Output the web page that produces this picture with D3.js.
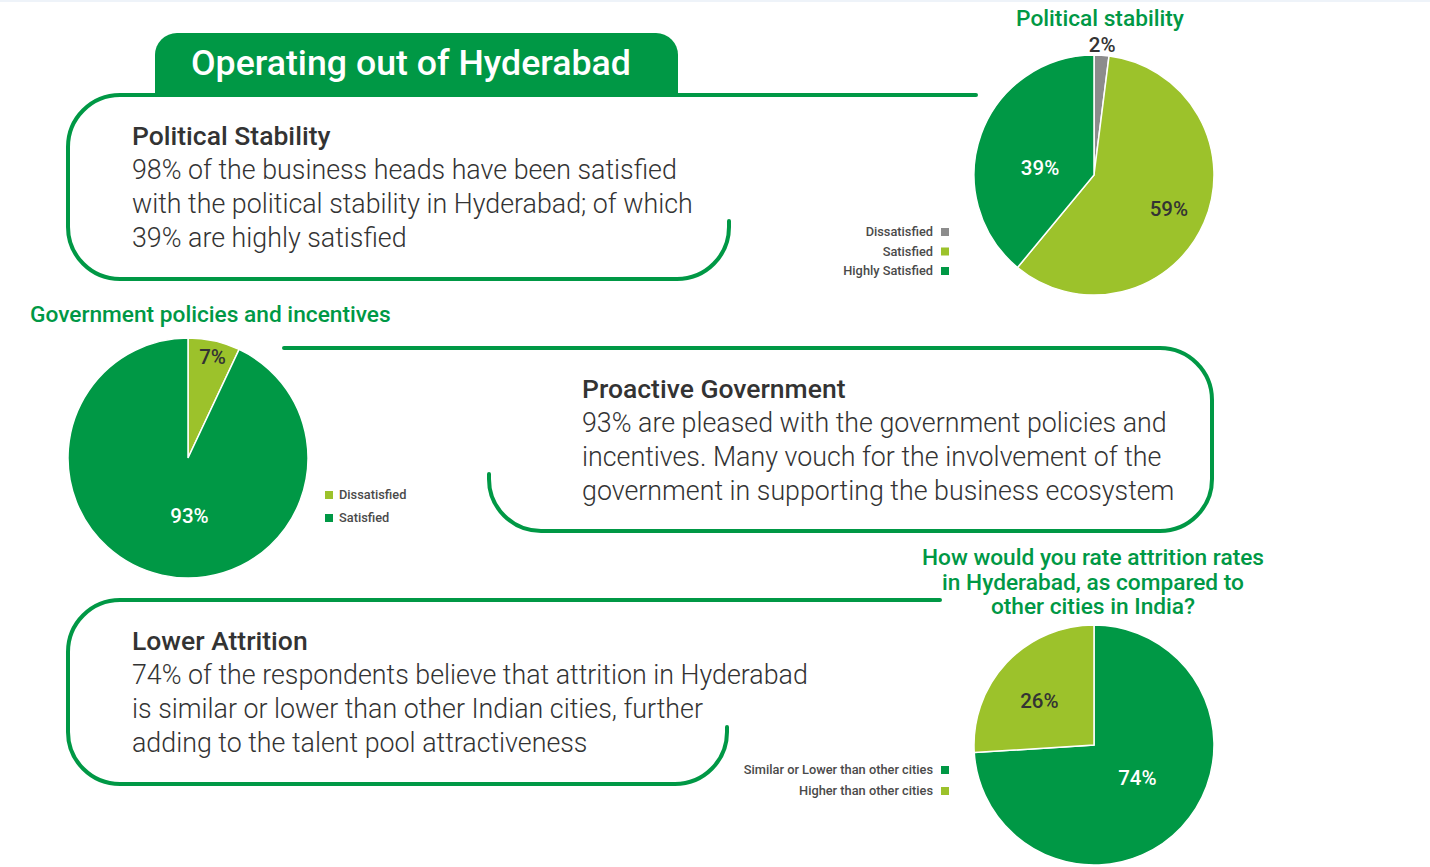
<!DOCTYPE html>
<html>
<head>
<meta charset="UTF-8">
<title>Operating out of Hyderabad</title>
<style>
  body { margin: 0; background: #fff; }
  text { font-family: Roboto, "Open Sans", sans-serif; }
</style>
</head>
<body>
<script src="https://cdn.jsdelivr.net/npm/d3@7"></script>
<script>
// ---- data ----
var politicalLabels = ["Dissatisfied", "Satisfied", "Highly Satisfied"];
var politicalValues = [2, 59, 39];

var policyLabels = ["Dissatisfied", "Satisfied"];
var policyValues = [7, 93];

var attritionLabels = ["Similar or Lower than other cities", "Higher than other cities"];
var attritionValues = [74, 26];

var darkGreen = "#009845", lightGreen = "#9cc22b", grey = "#8c8c8c", ink = "#333";

var W = 1430, H = 867;
var svg = d3.select("body").append("svg")
    .attr("width", W)
    .attr("height", H);

svg.append("rect").attr("x", 0).attr("y", 0).attr("width", W).attr("height", 2).attr("fill", "#eef3f9");

// ---- header tab ----
svg.append("path")
    .attr("d", "M155,97 L155,55 A22,22 0 0 1 177,33 L656,33 A22,22 0 0 1 678,55 L678,97 Z")
    .attr("fill", darkGreen);
svg.append("text")
    .attr("x", 191).attr("y", 75)
    .attr("fill", "#fff")
    .attr("font-size", 35.7)
    .attr("font-weight", 500)
    .text("Operating out of Hyderabad");

// ---- rounded text boxes ----
var boxes = [
  "M976,95 L120,95 A52,52 0 0 0 68,147 L68,227 A52,52 0 0 0 120,279 L677,279 A52,52 0 0 0 729,227 L729,221",
  "M284,348 L1160,348 A52,52 0 0 1 1212,400 L1212,479 A52,52 0 0 1 1160,531 L541,531 A52,52 0 0 1 489,479 L489,474",
  "M940,600 L120,600 A52,52 0 0 0 68,652 L68,732 A52,52 0 0 0 120,784 L675,784 A52,52 0 0 0 727,732 L727,727"
];
svg.append("g")
    .attr("fill", "none")
    .attr("stroke", darkGreen)
    .attr("stroke-width", 4)
    .attr("stroke-linecap", "round")
  .selectAll("path")
  .data(boxes)
  .enter().append("path")
    .attr("d", d => d);

function textBlock(x, y, title, lines) {
  var g = svg.append("g").attr("fill", ink);
  g.append("text")
      .attr("x", x).attr("y", y)
      .attr("font-size", 26.5)
      .attr("font-weight", 500)
      .text(title);
  g.selectAll("text.body")
    .data(lines)
    .enter().append("text")
      .attr("class", "body")
      .attr("x", x)
      .attr("y", (d, i) => y + 34 + i * 34)
      .attr("font-size", 26.8)
      .attr("font-weight", 300)
      .text(d => d);
}

textBlock(132, 145, "Political Stability", [
  "98% of the business heads have been satisfied",
  "with the political stability in Hyderabad; of which",
  "39% are highly satisfied"
]);
textBlock(582, 398, "Proactive Government", [
  "93% are pleased with the government policies and",
  "incentives. Many vouch for the involvement of the",
  "government in supporting the business ecosystem"
]);
textBlock(132, 650, "Lower Attrition", [
  "74% of the respondents believe that attrition in Hyderabad",
  "is similar or lower than other Indian cities, further",
  "adding to the talent pool attractiveness"
]);

// ---- pies ----
var R = 120;
var pie = d3.pie().sort(null).value(d => d.value);
var arc = d3.arc().innerRadius(0).outerRadius(R);

// labelR: label radius as share of R, nudge: small [dx, dy] tweaks to label spots
function drawPie(cx, cy, labels, values, colors, labelR, nudge, labelFill) {
  var data = labels.map((l, i) => ({ label: l, value: values[i] }));
  var color = d3.scaleOrdinal().domain(labels).range(colors);
  var arcs = pie(data);
  var g = svg.append("g").attr("transform", `translate(${cx},${cy})`);
  g.selectAll("path")
    .data(arcs)
    .enter().append("path")
      .attr("fill", d => color(d.data.label))
      .attr("stroke", "#fff")
      .attr("stroke-width", 1.5)
      .attr("d", arc);
  g.selectAll("text")
    .data(arcs)
    .enter().append("text")
      .attr("transform", (d, i) => {
        var r = R * labelR[i];
        var c = d3.arc().innerRadius(r).outerRadius(r).centroid(d);
        return `translate(${c[0] + nudge[i][0]},${c[1] + nudge[i][1]})`;
      })
      .attr("text-anchor", "middle")
      .attr("dy", "0.35em")
      .attr("font-size", 20.5)
      .attr("font-weight", 500)
      .attr("fill", (d, i) => labelFill[i])
      .text(d => d.data.value + "%");
  return color;
}

function legend(x, y, labels, color, textLeft, step) {
  var g = svg.append("g").attr("font-size", 12.8).attr("font-weight", 500).attr("fill", "#4a4a4a");
  var rows = g.selectAll("g").data(labels).enter().append("g")
      .attr("transform", (d, i) => `translate(${x},${y + i * step})`);
  rows.append("rect")
      .attr("x", 0).attr("y", -4).attr("width", 8).attr("height", 8)
      .attr("fill", d => color(d));
  rows.append("text")
      .attr("x", textLeft ? 14 : -8)
      .attr("dy", "0.35em")
      .attr("text-anchor", textLeft ? "start" : "end")
      .text(d => d);
}

function title(x, y, lines, anchor) {
  svg.append("g")
      .attr("fill", darkGreen)
      .attr("font-size", 22.7)
      .attr("font-weight", 500)
      .attr("text-anchor", anchor)
    .selectAll("text")
    .data(lines)
    .enter().append("text")
      .attr("x", x)
      .attr("y", (d, i) => y + i * 24.5)
      .text(d => d);
}

// Political stability
title(1100, 26, ["Political stability"], "middle");
var c1 = drawPie(1094, 175, politicalLabels, politicalValues, [grey, lightGreen, darkGreen],
                 [1.085, 0.68, 0.46], [[0, 0], [0, 1], [-2, 12]], [ink, ink, "#fff"]);
legend(941, 232, politicalLabels, c1, false, 19.5);

// Government policies
title(30, 322, ["Government policies and incentives"], "start");
var c2 = drawPie(188, 458, policyLabels, policyValues, [lightGreen, darkGreen],
                 [0.86, 0.48], [[2, 0], [14, 2]], [ink, "#fff"]);
legend(325, 495, policyLabels, c2, true, 23);

// Attrition
title(1093, 565, ["How would you rate attrition rates", "in Hyderabad, as compared to", "other cities in India?"], "middle");
var c3 = drawPie(1094, 745, attritionLabels, attritionValues, [darkGreen, lightGreen],
                 [0.45, 0.59], [[4, -4], [-3, 4]], ["#fff", ink]);
legend(941, 770, attritionLabels, c3, false, 21);
</script>
</body>
</html>
